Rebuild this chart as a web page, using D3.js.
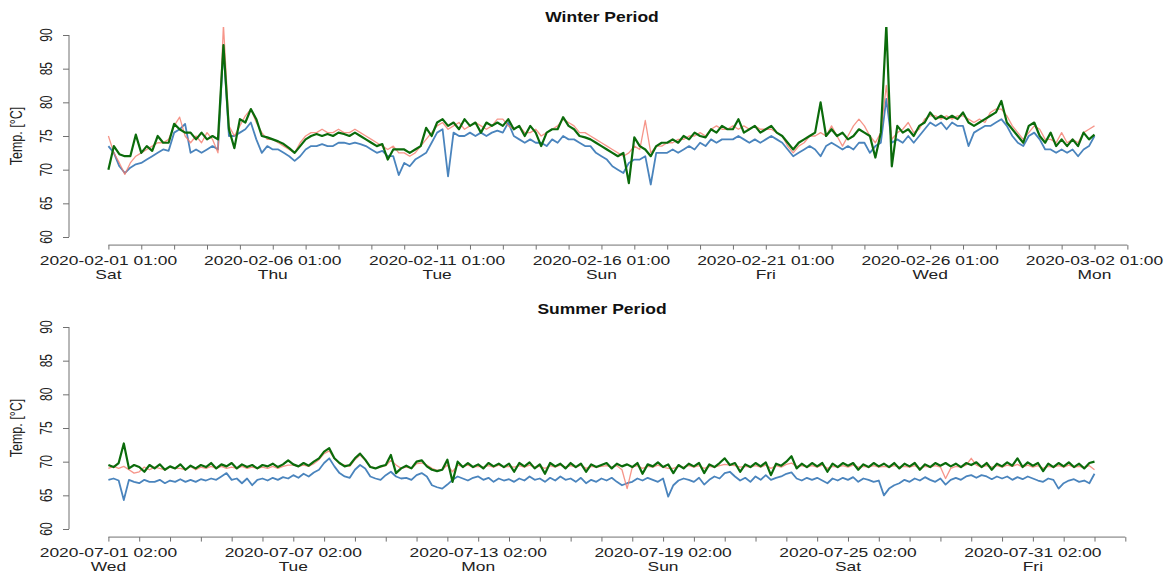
<!DOCTYPE html>
<html>
<head>
<meta charset="utf-8">
<script src="https://cdn.jsdelivr.net/npm/d3@7"></script>
<style>
  html, body { margin: 0; padding: 0; background: #fff; }
  svg { display: block; }
  text { font-family: "Liberation Sans", Arial, Helvetica, sans-serif; }
</style>
</head>
<body>
<svg id="chart" width="1165" height="573"></svg>
<script>
// Temperatures [°C], sampled every 4 hours
const winterStart = "2020-02-01 01:00";
const winterGreen = [
  70.0, 73.5, 72.3, 72.0, 72.0, 75.2,
  72.5, 73.5, 72.8, 75.0, 74.0, 74.0,
  76.8, 76.0, 75.5, 75.5, 74.5, 75.5,
  74.5, 75.0, 74.5, 88.5, 76.0, 73.2,
  77.5, 77.0, 79.0, 77.5, 75.0, 74.8,
  74.5, 74.2, 73.8, 73.2, 72.5, 73.5,
  74.5, 75.0, 75.3, 75.0, 75.3, 75.0,
  75.5, 75.3, 75.0, 75.5, 75.0, 74.5,
  74.0, 73.5, 73.8, 71.5, 73.0, 73.0,
  73.0, 72.5, 73.0, 73.5, 76.2, 75.0,
  77.0, 77.5, 76.5, 77.0, 76.0, 77.5,
  76.5, 77.0, 75.5, 77.0, 76.5, 77.0,
  76.5, 77.5, 76.0, 76.5, 75.0, 76.5,
  75.5, 73.5, 75.5, 76.0, 76.0, 77.8,
  76.5, 76.0, 75.0, 74.8, 74.5, 74.0,
  73.5, 73.0, 72.5, 72.0, 72.5, 68.0,
  74.8, 73.5, 73.0, 72.0, 73.5, 74.0,
  74.0, 74.5, 74.0, 75.0, 74.5, 75.5,
  75.0, 74.8, 76.0, 75.5, 76.5, 76.0,
  76.0, 77.5, 75.5, 76.0, 76.5, 75.5,
  76.0, 76.5, 75.5, 75.0, 74.0, 73.0,
  74.0, 74.5, 75.0, 75.5, 80.0, 75.0,
  76.0, 75.0, 75.5, 74.5, 75.0, 76.0,
  75.5, 75.0, 71.8, 75.5, 91.5, 70.5,
  76.5, 75.5, 76.0, 75.0, 76.5, 77.0,
  78.5, 77.5, 78.0, 77.5, 78.0, 77.5,
  78.5, 77.0, 76.5, 77.0, 77.5, 78.0,
  78.5, 80.2, 77.0, 76.0, 75.0, 74.0,
  76.5, 77.0, 75.0, 74.0, 75.5, 73.5,
  74.5, 73.5, 74.5, 73.5, 75.5, 74.5, 75.2
];
const winterRed = [
  75.0, 72.5, 71.0, 69.3, 71.0, 72.0,
  72.5, 73.0, 73.5, 74.0, 74.0, 74.5,
  76.5, 77.8, 75.0, 74.0, 75.0, 74.0,
  75.5, 74.5, 72.5, 91.5, 76.5, 75.0,
  76.5, 78.0, 79.0, 77.0, 75.5, 74.5,
  74.5, 74.0, 73.5, 73.0, 72.5, 74.0,
  75.0, 75.5, 75.5, 76.0, 75.5, 75.5,
  76.0, 75.5, 75.5, 76.0, 75.5, 75.0,
  74.5, 74.0, 73.5, 73.0, 73.5, 72.5,
  72.5, 72.0, 72.5, 73.5, 74.5, 75.5,
  76.5, 77.0, 76.0, 76.5, 77.0, 76.0,
  76.5, 77.0, 76.5, 76.0, 76.5, 77.5,
  77.5, 76.5, 76.0, 76.5, 75.5, 75.5,
  76.0, 75.0, 75.5, 76.0, 76.5, 77.5,
  77.0, 76.5, 75.5, 75.5, 75.0, 74.5,
  74.0, 73.5, 73.0, 72.5, 72.0, 72.5,
  73.5, 73.0, 77.3, 72.5, 73.5, 73.5,
  74.0, 74.0, 74.5, 74.5, 75.0, 75.0,
  75.5, 75.0, 76.0, 76.5, 76.0, 76.0,
  76.5, 76.0, 76.5, 76.0, 76.5, 76.0,
  76.0, 76.0, 75.5, 75.0, 73.5, 72.5,
  73.5, 74.0, 75.0, 75.0, 75.5, 75.0,
  76.5, 75.0, 73.5, 75.0, 76.5, 77.5,
  76.5, 75.0, 74.0, 75.5, 82.5, 74.5,
  75.5, 76.0, 77.0, 75.5, 76.0, 77.5,
  78.0, 78.0, 77.5, 78.0, 77.5, 78.0,
  78.0, 77.5, 77.0, 77.5, 77.0, 78.5,
  79.0, 79.0, 78.0, 76.5, 75.5, 74.5,
  75.5, 76.5, 76.0, 74.5, 74.5, 74.0,
  75.5, 74.0, 74.5, 74.0, 75.5, 76.0, 76.5
];
const winterBlue = [
  73.5, 72.5, 70.5, 69.5, 70.3, 70.8,
  71.0, 71.5, 72.0, 72.5, 73.0, 72.8,
  75.5, 76.0, 76.8, 72.5, 73.0, 72.5,
  73.0, 73.5, 73.0, 88.2, 75.0, 75.0,
  75.5, 76.0, 77.0, 74.5, 72.5, 73.5,
  73.0, 73.0, 72.5, 72.0, 71.3, 72.0,
  73.0, 73.5, 73.5, 73.8, 73.5, 73.5,
  74.0, 74.0, 73.8, 74.0, 73.8, 73.5,
  73.0, 72.5, 72.8, 72.0, 72.0, 69.2,
  71.0, 70.5, 71.5, 72.0, 72.5, 74.0,
  75.5, 76.0, 69.0, 75.5, 75.0, 75.0,
  75.5, 75.0, 75.5, 75.0, 75.5, 75.8,
  75.5, 77.0, 75.0, 74.5, 74.0, 74.5,
  74.0, 74.0, 73.5, 74.5, 74.0, 75.0,
  74.5, 74.5, 74.0, 73.5, 73.5, 72.5,
  72.0, 71.5, 70.5, 70.0, 69.5, 71.0,
  71.5, 71.5, 72.0, 67.8, 72.5, 72.5,
  72.5, 73.0, 72.5, 73.0, 73.5, 73.0,
  74.0, 73.5, 74.5, 74.0, 74.5, 74.5,
  74.5, 75.0, 74.5, 74.0, 74.5, 74.0,
  74.5, 75.0, 74.5, 74.0, 73.0, 72.0,
  72.5, 73.0, 73.5, 73.0, 72.0, 73.5,
  74.0, 73.5, 73.0, 73.5, 73.0, 74.0,
  74.0, 72.5, 73.5, 74.0, 80.5, 74.0,
  74.5, 74.0, 75.0, 74.0, 75.0, 76.0,
  77.0, 76.5, 77.0, 76.0, 77.0, 76.5,
  76.5, 73.5, 75.5, 76.0, 76.5, 76.5,
  77.0, 77.5, 76.5, 75.0, 74.0, 73.5,
  75.0, 75.5, 74.5, 73.0, 73.0, 72.5,
  73.0, 72.5, 73.0, 72.0, 73.0, 73.5, 75.0
];

const summerStart = "2020-07-01 02:00";
const summerGreen = [
  69.5, 69.2, 69.8, 72.7, 69.0, 69.5,
  69.2, 68.5, 69.5, 69.0, 69.6, 68.8,
  69.3, 69.0, 69.6, 68.8, 69.4, 69.0,
  69.5, 69.2, 69.8, 69.0, 69.6, 69.3,
  69.8, 69.0, 69.6, 69.2, 69.5, 69.0,
  69.5, 69.3, 69.7, 69.2, 69.6, 70.2,
  69.6, 69.3, 69.8, 69.4, 70.0, 70.5,
  71.5, 72.0, 70.5, 69.8, 69.3, 69.5,
  70.5, 71.2, 70.3, 69.2, 69.0, 69.3,
  69.5, 71.0, 68.3, 69.0, 69.4, 69.0,
  70.0, 70.2, 69.3, 68.8, 68.6, 68.8,
  70.3, 67.0, 70.0, 69.2, 69.8, 69.2,
  69.6, 69.0, 69.8, 69.3, 69.7, 69.2,
  69.7, 68.5, 69.8, 69.3, 69.9, 69.0,
  69.6, 68.2, 69.8, 69.3, 69.7, 69.0,
  69.8, 69.2, 69.7, 68.5, 69.6, 69.2,
  69.5, 69.8, 69.0, 69.7, 69.3, 69.6,
  69.2, 69.8, 68.2, 69.6, 69.3, 69.9,
  69.2, 69.6, 68.3, 69.5, 69.0, 69.7,
  69.3, 69.8, 68.3, 69.6, 69.2, 69.8,
  70.5, 69.5, 69.8, 68.5, 69.6, 69.2,
  69.8, 69.3, 69.9, 68.0, 69.7, 69.4,
  70.0, 70.8, 69.0, 69.7, 69.2, 69.8,
  69.3, 69.8, 68.5, 69.7, 69.2, 69.8,
  69.4, 69.8, 68.8, 69.6, 69.2, 69.8,
  69.3, 69.7, 69.2, 69.8, 69.0, 69.7,
  69.3, 69.8, 68.8, 69.6, 69.2, 69.8,
  69.4, 69.8, 69.3, 69.7, 69.2, 69.8,
  69.5, 69.9, 69.2, 69.8, 68.8, 69.7,
  69.3, 69.9, 69.4, 70.5, 69.2, 69.9,
  69.4, 69.8, 68.6, 69.7, 69.2, 69.8,
  69.3, 69.9, 69.2, 69.7, 69.0, 69.8, 70.0
];
const summerRed = [
  69.0, 69.3, 69.0, 69.3, 68.8, 68.3,
  68.5, 69.2, 68.8, 69.2, 69.0, 68.8,
  69.2, 69.0, 69.0, 68.8, 69.3, 68.8,
  69.2, 69.0, 69.3, 69.0, 69.3, 69.0,
  69.2, 69.0, 69.3, 69.0, 69.2, 69.0,
  69.2, 69.0, 69.3, 69.0, 69.3, 69.5,
  69.5, 69.3, 69.5, 69.3, 69.7, 70.3,
  71.2, 71.6, 70.5, 69.7, 69.5, 69.3,
  70.3, 71.0, 70.2, 69.3, 69.0, 69.2,
  69.4, 70.2, 69.5, 69.0, 69.2, 69.0,
  69.7, 69.8, 69.5, 69.0, 68.7, 68.8,
  69.5, 68.5, 69.5, 69.3, 69.5, 69.2,
  69.3, 69.2, 69.4, 69.2, 69.5, 69.2,
  69.3, 69.2, 69.4, 69.2, 69.5, 69.2,
  69.3, 69.0, 69.4, 69.2, 69.5, 69.2,
  69.4, 69.2, 69.5, 69.0, 69.3, 69.2,
  69.3, 69.4, 69.2, 69.4, 68.8, 66.0,
  69.2, 69.4, 69.0, 69.3, 69.2, 69.5,
  69.2, 69.0, 69.0, 69.3, 69.2, 69.4,
  69.2, 69.4, 69.0, 69.3, 69.2, 69.4,
  69.6, 69.5, 69.4, 69.2, 69.3, 69.2,
  69.4, 69.2, 69.5, 69.0, 69.4, 69.2,
  69.6, 69.8, 69.3, 69.4, 69.2, 69.4,
  69.2, 69.5, 69.0, 69.3, 69.2, 69.4,
  69.2, 69.5, 69.2, 69.3, 69.2, 69.4,
  69.2, 69.3, 69.2, 69.4, 69.2, 69.3,
  69.2, 69.4, 69.0, 69.3, 69.2, 69.4,
  69.2, 67.5, 69.0, 69.3, 69.2, 69.5,
  70.5, 69.5, 69.2, 69.4, 69.2, 69.4,
  69.2, 69.5, 69.3, 69.6, 69.2, 69.5,
  69.2, 69.4, 69.0, 69.3, 69.2, 69.4,
  69.2, 69.5, 69.2, 69.3, 69.1, 69.4, 68.8
];
const summerBlue = [
  67.3, 67.5, 67.2, 64.3, 67.3, 67.0,
  66.8, 67.3, 67.0, 67.0, 67.3, 66.8,
  67.2, 67.0, 67.4, 67.0, 67.3, 67.0,
  67.4, 67.2, 67.5, 67.3, 67.8, 68.3,
  67.3, 67.5, 66.8, 67.5, 66.5, 67.3,
  67.5, 67.2, 67.6, 67.3, 67.7, 67.5,
  68.0, 67.6, 68.2, 67.8, 68.4, 68.8,
  69.8, 70.5, 69.3, 68.3, 67.8, 67.6,
  68.8, 69.5, 69.0, 67.8, 67.5, 67.3,
  68.0, 68.5, 67.8, 67.5, 67.6, 67.3,
  68.0, 68.3, 67.8, 66.5, 66.2, 66.0,
  66.6, 67.3, 67.8, 67.5, 67.2, 67.6,
  67.8, 67.3, 67.6, 67.0, 67.5, 67.2,
  67.4, 67.0, 67.5, 67.2, 67.8, 67.3,
  67.5, 67.0, 67.6, 67.2, 67.8, 67.3,
  67.5, 67.0, 67.6, 66.8, 67.3, 67.0,
  67.5, 67.2, 67.6, 67.0, 66.5, 66.8,
  67.0, 67.5, 67.2, 67.6, 67.3, 67.0,
  67.5, 64.8, 66.5, 67.2, 67.5, 67.3,
  67.0, 67.6, 66.6, 67.3, 67.8, 67.5,
  68.3, 68.5, 67.8, 67.2, 67.6, 67.0,
  67.8, 67.3, 68.0, 67.3, 67.6, 67.8,
  68.2, 68.4, 67.5, 67.2, 67.6, 67.3,
  67.6, 67.2, 66.8, 67.5, 67.2, 67.6,
  67.3, 67.7, 67.0, 67.5, 67.3, 67.0,
  67.2, 65.0, 66.0, 66.5, 66.8, 67.3,
  67.0, 67.5, 67.2, 67.7, 67.3, 67.0,
  67.5, 66.6, 67.3, 67.6, 67.3, 67.8,
  68.0, 67.6, 68.0, 67.8, 67.4, 67.8,
  67.5, 67.8, 67.3, 67.7, 67.4, 67.8,
  67.5, 67.2, 67.0, 67.5, 67.3, 66.0,
  66.8, 67.2, 67.4, 67.0, 67.2, 66.8, 68.2
];

// Axis ticks and labels
const yTicks = [60, 65, 70, 75, 80, 85, 90];
const winterLabelTimes = ["2020-02-01 01:00", "2020-02-06 01:00", "2020-02-11 01:00", "2020-02-16 01:00", "2020-02-21 01:00", "2020-02-26 01:00", "2020-03-02 01:00"];
const winterLabelDays = ["Sat", "Thu", "Tue", "Sun", "Fri", "Wed", "Mon"];
const summerLabelTimes = ["2020-07-01 02:00", "2020-07-07 02:00", "2020-07-13 02:00", "2020-07-19 02:00", "2020-07-25 02:00", "2020-07-31 02:00"];
const summerLabelDays = ["Wed", "Tue", "Mon", "Sun", "Sat", "Fri"];

const stepHours = 4;
const parseTime = d3.utcParse("%Y-%m-%d %H:%M");
const svg = d3.select("#chart");
const SX = 1.45;   // horizontal stretch applied to the text glyphs

const panels = [
  { title: "Winter Period", start: winterStart, span: 30, tickDays: 31, offset: 0,
    green: winterGreen, red: winterRed, blue: winterBlue,
    labelTimes: winterLabelTimes, labelDays: winterLabelDays },
  { title: "Summer Period", start: summerStart, span: 32, tickDays: 33, offset: 292,
    green: summerGreen, red: summerRed, blue: summerBlue,
    labelTimes: summerLabelTimes, labelDays: summerLabelDays }
];

const left = 69, right = 1134;
const axisColor = "#707070";

panels.forEach((p, k) => {
  const t0 = parseTime(p.start);
  const t1 = d3.utcHour.offset(t0, 24 * p.span);
  const x = d3.scaleUtc().domain([t0, t1]).range([108.4, 1094.5]);
  const y = d3.scaleLinear().domain([60, 90]).range([237 + p.offset, 35 + p.offset]);
  const top = y(91.2), bottom = y(58.8);

  const g = svg.append("g");

  // plotting region clip
  const clipId = "clip" + k;
  svg.append("clipPath").attr("id", clipId)
    .append("rect").attr("x", left).attr("y", top)
    .attr("width", right - left).attr("height", bottom - top);

  // title
  g.append("text")
    .attr("transform", `translate(602,${p.offset + 22}) scale(1.25,1)`)
    .attr("text-anchor", "middle")
    .attr("font-size", 14).attr("font-weight", "bold").attr("fill", "#111")
    .text(p.title);

  // y axis
  const yAxis = d3.axisLeft(y).tickValues(yTicks).tickSize(6).tickFormat("");
  const ya = g.append("g").attr("transform", `translate(${left},0)`).call(yAxis);
  ya.select(".domain").remove();
  ya.selectAll(".tick line").attr("stroke", axisColor);
  g.append("line").attr("x1", left).attr("x2", left)
    .attr("y1", y(60)).attr("y2", y(90)).attr("stroke", axisColor);
  g.selectAll(".ylab").data(yTicks).enter().append("text")
    .attr("transform", d => `translate(52,${y(d)}) scale(${SX},1) rotate(-90)`)
    .attr("text-anchor", "middle").attr("font-size", 12).attr("fill", "#222")
    .text(d => d);
  g.append("text")
    .attr("transform", `translate(22,${(y(60) + y(90)) / 2}) scale(1.3,1) rotate(-90)`)
    .attr("text-anchor", "middle").attr("font-size", 12.5).attr("fill", "#222")
    .text("Temp. [°C]");

  // x axis: daily ticks
  const dayTicks = d3.range(0, p.tickDays + 1).map(d => d3.utcHour.offset(t0, 24 * d));
  const xAxis = d3.axisBottom(x).tickValues(dayTicks).tickSize(4.5).tickFormat("");
  const xa = g.append("g").attr("transform", `translate(0,${bottom})`).call(xAxis);
  xa.select(".domain").remove();
  xa.selectAll(".tick line").attr("stroke", axisColor);
  g.append("line")
    .attr("x1", x(dayTicks[0])).attr("x2", x(dayTicks[dayTicks.length - 1]))
    .attr("y1", bottom).attr("y2", bottom).attr("stroke", axisColor);

  const labels = p.labelTimes.map((s, i) => ({ t: parseTime(s), s, day: p.labelDays[i] }));
  g.selectAll(".xlab1").data(labels).enter().append("text")
    .attr("transform", d => `translate(${x(d.t)},${bottom + 19.5}) scale(${SX},1)`)
    .attr("text-anchor", "middle").attr("font-size", 12).attr("fill", "#222")
    .text(d => d.s);
  g.selectAll(".xlab2").data(labels).enter().append("text")
    .attr("transform", d => `translate(${x(d.t)},${bottom + 34}) scale(${SX},1)`)
    .attr("text-anchor", "middle").attr("font-size", 12).attr("fill", "#222")
    .text(d => d.day);

  // series
  const line = d3.line()
    .x((d, i) => x(d3.utcHour.offset(t0, stepHours * i)))
    .y(d => y(d));
  const plot = g.append("g").attr("clip-path", `url(#${clipId})`);
  plot.append("path").datum(p.blue).attr("d", line)
    .attr("fill", "none").attr("stroke", "#4A84BD").attr("stroke-width", 1.8)
    .attr("stroke-linejoin", "round");
  plot.append("path").datum(p.red).attr("d", line)
    .attr("fill", "none").attr("stroke", "#F47B6B").attr("stroke-opacity", 0.8)
    .attr("stroke-width", 1.3).attr("stroke-linejoin", "round");
  plot.append("path").datum(p.green).attr("d", line)
    .attr("fill", "none").attr("stroke", "#0B6B0B").attr("stroke-width", 2.2)
    .attr("stroke-linejoin", "round");
});
</script>
</body>
</html>
